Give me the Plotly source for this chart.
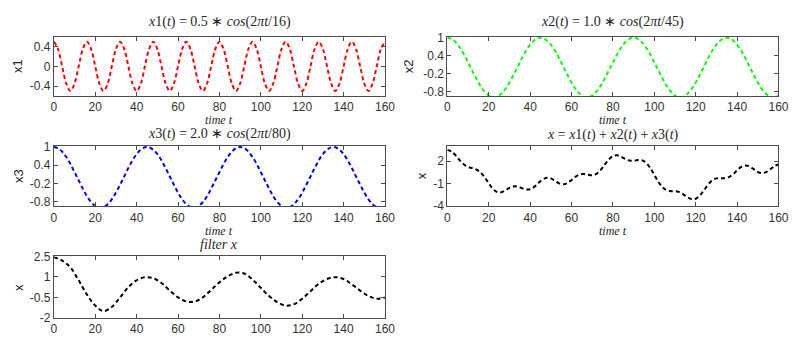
import plotly.graph_objects as go

# ---------------- data ----------------
t_fine = list(range(0, 161, 2))      # time t, step 2
t_filter = list(range(0, 161, 4))    # time t, step 4

x1_vals = [0.5, 0.35, 0.0, -0.35, -0.5, -0.35, 0.0, 0.35,
           0.5, 0.35, 0.0, -0.35, -0.5, -0.35, 0.0, 0.35,
           0.5, 0.35, 0.0, -0.35, -0.5, -0.35, 0.0, 0.35,
           0.5, 0.35, 0.0, -0.35, -0.5, -0.35, 0.0, 0.35,
           0.5, 0.35, 0.0, -0.35, -0.5, -0.35, 0.0, 0.35,
           0.5, 0.35, 0.0, -0.35, -0.5, -0.35, 0.0, 0.35,
           0.5, 0.35, 0.0, -0.35, -0.5, -0.35, 0.0, 0.35,
           0.5, 0.35, 0.0, -0.35, -0.5, -0.35, 0.0, 0.35,
           0.5, 0.35, 0.0, -0.35, -0.5, -0.35, 0.0, 0.35,
           0.5, 0.35, 0.0, -0.35, -0.5, -0.35, 0.0, 0.35,
           0.5]

x2_vals = [1.00, 0.96, 0.85, 0.67, 0.44, 0.17, -0.10, -0.37, -0.62, -0.81,
           -0.94, -1.00, -0.98, -0.88, -0.72, -0.50, -0.24, 0.03, 0.31, 0.56,
           0.77, 0.91, 0.99, 0.99, 0.91, 0.77, 0.56, 0.31, 0.03, -0.24,
           -0.50, -0.72, -0.88, -0.98, -1.00, -0.94, -0.81, -0.62, -0.37, -0.10,
           0.17, 0.44, 0.67, 0.85, 0.96,
           1.00, 0.96, 0.85, 0.67, 0.44, 0.17, -0.10, -0.37, -0.62, -0.81,
           -0.94, -1.00, -0.98, -0.88, -0.72, -0.50, -0.24, 0.03, 0.31, 0.56,
           0.77, 0.91, 0.99, 0.99, 0.91, 0.77, 0.56, 0.31, 0.03, -0.24,
           -0.50, -0.72, -0.88, -0.98, -1.00, -0.94]

x3_vals = [1.00, 0.96, 0.85, 0.67, 0.44, 0.17, -0.10, -0.37, -0.62, -0.81,
           -0.94, -1.00, -0.98, -0.88, -0.72, -0.50, -0.24, 0.03, 0.31, 0.56,
           0.77, 0.91, 0.99, 0.99, 0.91, 0.77, 0.56, 0.31, 0.03, -0.24,
           -0.50, -0.72, -0.88, -0.98, -1.00, -0.94, -0.81, -0.62, -0.37, -0.10,
           0.17, 0.44, 0.67, 0.85, 0.96,
           1.00, 0.96, 0.85, 0.67, 0.44, 0.17, -0.10, -0.37, -0.62, -0.81,
           -0.94, -1.00, -0.98, -0.88, -0.72, -0.50, -0.24, 0.03, 0.31, 0.56,
           0.77, 0.91, 0.99, 0.99, 0.91, 0.77, 0.56, 0.31, 0.03, -0.24,
           -0.50, -0.72, -0.88, -0.98, -1.00, -0.94]

x_sum_vals = [3.50, 3.29, 2.75, 2.10, 1.56, 1.23, 1.07, 0.89, 0.50, -0.14,
              -0.94, -1.67, -2.10, -2.15, -1.90, -1.56, -1.36, -1.39, -1.59, -1.77,
              -1.73, -1.42, -0.91, -0.44, -0.20, -0.29, -0.62, -0.95, -1.08, -0.91,
              -0.50, -0.05, 0.24, 0.28, 0.18, 0.12, 0.31, 0.81, 1.53, 2.22,
              2.67, 2.77, 2.57, 2.28, 2.08, 2.06, 2.14, 2.11, 1.79, 1.11,
              0.17, -0.77, -1.49, -1.88, -1.99, -2.00, -2.12, -2.41, -2.79, -3.05,
              -3.00, -2.57, -1.87, -1.12, -0.56, -0.29, -0.26, -0.27, -0.13, 0.25,
              0.77, 1.23, 1.43, 1.30, 0.93, 0.56, 0.40, 0.55, 0.92, 1.33,
              1.56]

filter_vals = [2.45, 2.2, 1.7, 0.75, -0.3, -1.1, -1.5, -1.2, -0.5, 0.25,
               0.75, 0.97, 0.9, 0.55, 0.0, -0.5, -0.8, -0.8, -0.5, 0.05,
               0.6, 1.05, 1.3, 1.25, 0.8, 0.2, -0.4, -0.85, -1.1, -1.0,
               -0.6, -0.05, 0.5, 0.85, 0.98, 0.85, 0.45, 0.0, -0.4, -0.6,
               -0.5]

x_ticks = [0, 20, 40, 60, 80, 100, 120, 140, 160]
x1_ticks = [-0.4, 0, 0.4]
x1_ticktext = ["-0.4", "0", "0.4"]
x23_ticks = [-0.8, -0.2, 0.4, 1]
x23_ticktext = ["-0.8", "-0.2", "0.4", "1"]
xs_ticks = [-4, -1, 2]
xs_ticktext = ["-4", "-1", "2"]
xf_ticks = [-2, -0.5, 1, 2.5]
xf_ticktext = ["-2", "-0.5", "1", "2.5"]

titles = ["<i>x</i>1(<i>t</i>) = 0.5 ∗ <i>cos</i>(2<i>πt</i>/16)",
          "<i>x</i>2(<i>t</i>) = 1.0 ∗ <i>cos</i>(2<i>πt</i>/45)",
          "<i>x</i>3(<i>t</i>) = 2.0 ∗ <i>cos</i>(2<i>πt</i>/80)",
          "<i>x</i> = <i>x</i>1(<i>t</i>) + <i>x</i>2(<i>t</i>) + <i>x</i>3(<i>t</i>)",
          "<i>filter x</i>"]
ylabels = ["x1", "x2", "x3", "x", "x"]

# ---------------- figure ----------------
W, H = 800, 345
def px_x(p):
    return p / W
def px_y(p):
    return 1 - p / H

LEFT = (px_x(51.7), px_x(388.3))
RIGHT = (px_x(451.7), px_x(788.3))
ROW1 = (px_y(92.7), px_y(31))
ROW2 = (px_y(207.7), px_y(145))
ROW3 = (px_y(324), px_y(260))

fig = go.Figure()
line_dash = "4px,3px"

series = [
    (t_fine, x1_vals, "#ff0000", "x", "y"),
    (t_fine, x2_vals, "#00ff00", "x2", "y2"),
    (t_fine, x3_vals, "#0000ff", "x3", "y3"),
    (t_fine, x_sum_vals, "#000000", "x4", "y4"),
    (t_filter, filter_vals, "#000000", "x5", "y5"),
]
for tx, vals, col, xa, ya in series:
    fig.add_trace(go.Scatter(x=tx, y=vals, mode="lines", xaxis=xa, yaxis=ya,
                             line=dict(color=col, width=2, dash=line_dash,
                                       shape="spline", smoothing=1.0),
                             showlegend=False, hoverinfo="skip"))

axis_color = "#4d4d4d"
tick_font = dict(family="Liberation Sans, Arial, sans-serif", size=12, color="#333333")

def xax(domain, anchor):
    return dict(domain=domain, anchor=anchor, range=[0, 160], tickvals=x_ticks,
                ticktext=[str(v) for v in x_ticks], showline=True, mirror="ticks",
                linecolor=axis_color, linewidth=1, ticks="inside", ticklen=4,
                tickcolor=axis_color, showgrid=False, zeroline=False,
                tickfont=tick_font, fixedrange=True)

def yax(domain, anchor, rng, tv, tt):
    return dict(domain=domain, anchor=anchor, range=rng, tickvals=tv, ticktext=tt,
                showline=True, mirror="ticks", linecolor=axis_color, linewidth=1,
                ticks="inside", ticklen=4, tickcolor=axis_color, showgrid=False,
                zeroline=False, tickfont=tick_font, fixedrange=True)

fig.update_layout(
    width=W, height=H, autosize=False,
    margin=dict(l=0, r=0, t=0, b=0, pad=0),
    paper_bgcolor="white", plot_bgcolor="white",
    xaxis=xax(LEFT, "y"),
    yaxis=yax(ROW1, "x", [-0.6, 0.6], x1_ticks, x1_ticktext),
    xaxis2=xax(RIGHT, "y2"),
    yaxis2=yax(ROW1, "x2", [-0.95, 1.03], x23_ticks, x23_ticktext),
    xaxis3=xax(LEFT, "y3"),
    yaxis3=yax(ROW2, "x3", [-0.95, 1.03], x23_ticks, x23_ticktext),
    xaxis4=xax(RIGHT, "y4"),
    yaxis4=yax(ROW2, "x4", [-4, 4], xs_ticks, xs_ticktext),
    xaxis5=xax(LEFT, "y5"),
    yaxis5=yax(ROW3, "x5", [-2, 2.5], xf_ticks, xf_ticktext),
)

title_font = dict(family="Liberation Serif, Times New Roman, serif", size=14, color="#262626")
label_font = dict(family="Liberation Serif, Times New Roman, serif", size=12, color="#262626")
ylab_font = dict(family="Liberation Sans, Arial, sans-serif", size=13, color="#262626")

title_pos = [(220, 16), (620, 16), (220, 132.5), (620, 133.5), (220, 247.7)]
for (px, py), txt in zip(title_pos, titles):
    fig.add_annotation(x=px_x(px), y=px_y(py), xref="paper", yref="paper",
                       text=txt, showarrow=False, xanchor="center", yanchor="middle",
                       font=title_font)

for px, py in [(220, 117.5), (620, 117.5), (220, 233.5), (620, 233.5)]:
    fig.add_annotation(x=px_x(px), y=px_y(py), xref="paper", yref="paper",
                       text="<i>time t</i>", showarrow=False, xanchor="center",
                       yanchor="middle", font=label_font)

ylab_pos = [(15, 61.85), (411.7, 61.85), (15, 176.35), (425, 176.35), (15, 292)]
for (px, py), txt in zip(ylab_pos, ylabels):
    fig.add_annotation(x=px_x(px), y=px_y(py), xref="paper", yref="paper",
                       text=txt, showarrow=False, textangle=-90, xanchor="center",
                       yanchor="middle", font=ylab_font)

fig.write_html("out.html")
